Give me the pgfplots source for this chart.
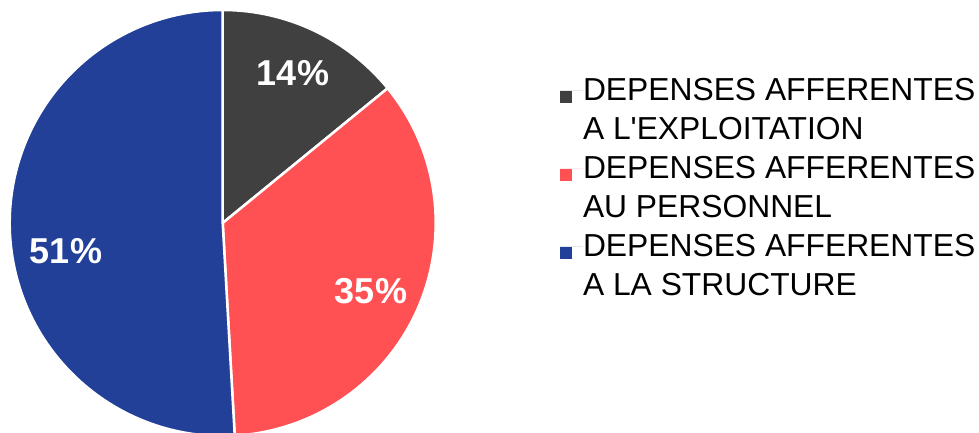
\documentclass[border=0pt]{standalone}
\usepackage{fontspec}
\setmainfont{Liberation Sans}
\usepackage{pgfplots}
\usepackage{pgfplotstable}
\pgfplotsset{compat=1.18}

\definecolor{pgray}{RGB}{64,64,64}
\definecolor{pred}{RGB}{255,80,83}
\definecolor{pblue}{RGB}{34,64,152}

% share of each expense group, clockwise from 12 o'clock
\pgfplotstableread{
part value
1 14.1
2 35.0
3 50.9
}\piedata

\begin{document}
\begin{tikzpicture}
\pgfplotstablegetelem{0}{value}\of\piedata \let\va\pgfplotsretval
\pgfplotstablegetelem{1}{value}\of\piedata \let\vb\pgfplotsretval
\pgfplotstablegetelem{2}{value}\of\piedata \let\vc\pgfplotsretval
\pgfmathsetmacro\aA{90}
\pgfmathsetmacro\aB{90-3.6*\va}
\pgfmathsetmacro\aC{\aB-3.6*\vb}
\pgfmathsetmacro\aD{\aC-3.6*\vc}
\begin{axis}[
    width=979bp, height=433bp, scale only axis,
    xmin=0, xmax=979, ymin=0, ymax=433,
    hide axis, clip=true,
    legend cell align=left,
    legend style={draw=none, fill=none, at={(axis cs:560,361.7)}, anchor=north west,
        inner sep=0pt, outer sep=0pt, column sep=0pt, row sep=0pt,
        font=\fontsize{31.8bp}{39bp}\selectfont,
        nodes={inner sep=0pt, text height=29bp, text depth=10bp}},
    legend image code/.code={
        \fill[#1] (0bp,-12.4bp) rectangle (12bp,-0.7bp);
        \path (0bp,0bp) -- (23bp,0bp);},
]
    % slices, clipped at the bottom edge like the original
    \begin{scope}
    \clip (axis cs:0,0) rectangle (axis cs:979,433);
    \fill[pgray, draw=white, line width=2.5bp] (axis cs:222.7,210) -- ++(\aA:213bp)
        arc[start angle=\aA, end angle=\aB, radius=213bp] -- cycle;
    \fill[pred, draw=white, line width=2.5bp] (axis cs:222.7,210) -- ++(\aB:213bp)
        arc[start angle=\aB, end angle=\aC, radius=213bp] -- cycle;
    \fill[pblue, draw=white, line width=2.5bp] (axis cs:222.7,210) -- ++(\aC:213bp)
        arc[start angle=\aC, end angle=\aD, radius=213bp] -- cycle;
    \end{scope}

    % data labels
    \node[white, anchor=base, font=\bfseries\fontsize{36bp}{40bp}\selectfont] at (axis cs:293,347) {14\%};
    \node[white, anchor=base, font=\bfseries\fontsize{36bp}{40bp}\selectfont] at (axis cs:371,129.7) {35\%};
    \node[white, anchor=base, font=\bfseries\fontsize{36bp}{40bp}\selectfont] at (axis cs:66,169.7) {51\%};

    % legend, one row per text line
    \addlegendimage{fill=pgray, draw=none}
    \addlegendentry{DEPENSES AFFERENTES}
    \addlegendimage{empty legend}
    \addlegendentry{A L\textquotesingle EXPLOITATION}
    \addlegendimage{fill=pred, draw=none}
    \addlegendentry{DEPENSES AFFERENTES}
    \addlegendimage{empty legend}
    \addlegendentry{AU PERSONNEL}
    \addlegendimage{fill=pblue, draw=none}
    \addlegendentry{DEPENSES AFFERENTES}
    \addlegendimage{empty legend}
    \addlegendentry{A LA STRUCTURE}
\end{axis}
\end{tikzpicture}
\end{document}
